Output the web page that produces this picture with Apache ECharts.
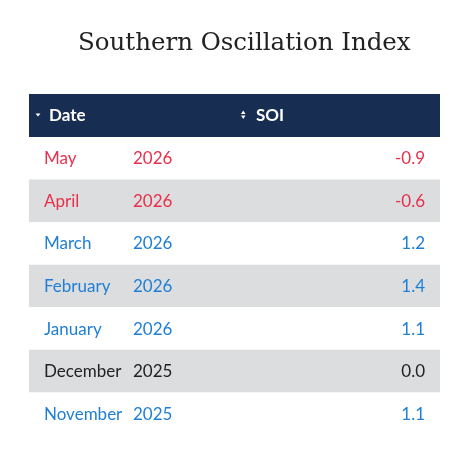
<!DOCTYPE html>
<html>
<head>
<meta charset="utf-8">
<script src="https://cdn.jsdelivr.net/npm/echarts@6/dist/echarts.min.js"></script>
<style>
html,body{margin:0;padding:0;background:#fff;}
#chart{width:469px;height:457px;}
</style>
</head>
<body>
<div id="chart"></div>
<script>
const titleText = 'Southern Oscillation Index';
const headers = ['Date', 'SOI'];
const months = ['May', 'April', 'March', 'February', 'January', 'December', 'November'];
const years = ['2026', '2026', '2026', '2026', '2026', '2025', '2025'];
const soi = [-0.9, -0.6, 1.2, 1.4, 1.1, 0.0, 1.1];

const RED = '#e8304c', BLUE = '#1f7fd6', DARK = '#222222';
const FONT = 'Lato';

const chart = echarts.init(document.getElementById('chart'));
const rows = months.map((m, i) => [i, m, years[i], soi[i]]);

function colorOf(v) { return v < 0 ? RED : (v > 0 ? BLUE : DARK); }

chart.setOption({
  animation: false,
  title: {
    text: titleText,
    left: 73,
    top: 26,
    textStyle: { fontFamily: 'DejaVu Serif', fontSize: 24.5, fontWeight: 'normal', color: '#222' }
  },
  grid: { left: 29, right: 29, top: 137, bottom: 22 },
  xAxis: { type: 'value', min: 0, max: 100, show: false },
  yAxis: { type: 'category', data: months, inverse: true, show: false },
  graphic: [
    { type: 'rect', shape: { x: 29, y: 94, width: 411, height: 43 }, style: { fill: '#172d52' } },
    { type: 'polygon', shape: { points: [[35.5, 113.5], [40.5, 113.5], [38, 116.5]] }, style: { fill: '#fff' } },
    { type: 'text', x: 49, y: 116, style: { text: headers[0], fill: '#fff', font: 'bold 17px ' + FONT, textVerticalAlign: 'middle' } },
    { type: 'polygon', shape: { points: [[241, 114], [245.5, 114], [243.25, 110.5]] }, style: { fill: '#fff' } },
    { type: 'polygon', shape: { points: [[241, 115.5], [245.5, 115.5], [243.25, 119]] }, style: { fill: '#fff' } },
    { type: 'text', x: 256, y: 116, style: { text: headers[1], fill: '#fff', font: 'bold 17px ' + FONT, textVerticalAlign: 'middle' } }
  ],
  series: [{
    type: 'custom',
    data: rows,
    encode: { y: 0 },
    renderItem: function (params, api) {
      const idx = api.value(0);
      const c = api.coord([0, idx]);
      const band = api.size([0, 1])[1];
      const cs = params.coordSys;
      const v = soi[idx];
      const col = colorOf(v);
      const font = '17px ' + FONT;
      return {
        type: 'group',
        children: [
          { type: 'rect', shape: { x: cs.x, y: c[1] - band / 2, width: cs.width, height: band },
            style: { fill: idx % 2 === 1 ? '#dcdddf' : '#ffffff' } },
          { type: 'text', x: cs.x + 15, y: c[1] + 0.5, style: { text: months[idx], fill: col, font: font, textVerticalAlign: 'middle' } },
          { type: 'text', x: cs.x + 104, y: c[1] + 0.5, style: { text: years[idx], fill: col, font: font, textVerticalAlign: 'middle' } },
          { type: 'text', x: cs.x + cs.width - 15, y: c[1] + 0.5, style: { text: v.toFixed(1), fill: col, font: font, textAlign: 'right', textVerticalAlign: 'middle' } }
        ]
      };
    }
  }]
});
</script>
</body>
</html>
